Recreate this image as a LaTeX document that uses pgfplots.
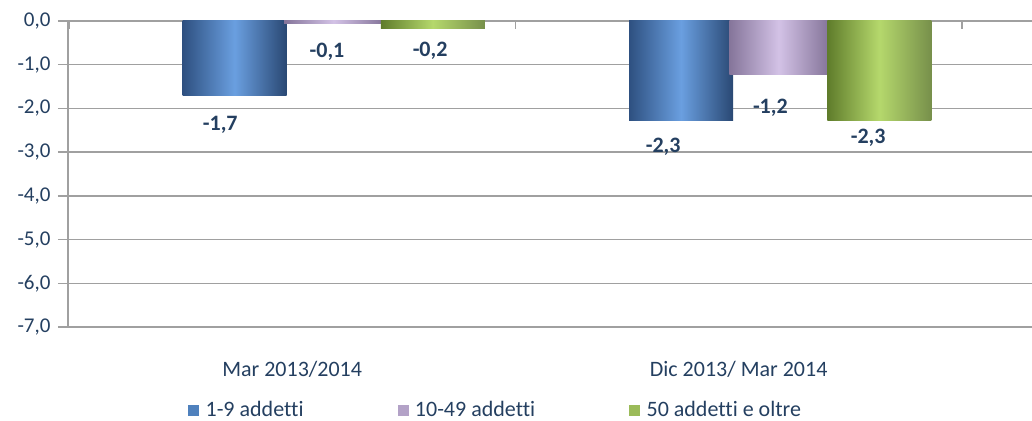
\documentclass[border=0pt]{standalone}
\usepackage{pgfplots}
\pgfplotsset{compat=1.18}
\usepackage{fontspec}
\setmainfont[Ligatures=NoCommon]{Carlito}
\definecolor{txt}{HTML}{243F60}
\definecolor{gridc}{HTML}{A0A0A0}
\definecolor{bluedark}{HTML}{2E5080}
\definecolor{bluelight}{HTML}{6A9FE0}
\definecolor{purpdark}{HTML}{85759A}
\definecolor{purplight}{HTML}{D3C2E6}
\definecolor{greendark}{HTML}{5F7C2B}
\definecolor{greenlight}{HTML}{B5D86C}
\definecolor{legblue}{HTML}{4F81BD}
\definecolor{legpurp}{HTML}{B3A2C7}
\definecolor{leggreen}{HTML}{9BBB59}

\pgfplotstableread{
x y lab
-0.161 -2.38 {-1,7}
0.078 -0.71 {-0,1}
0.309 -0.68 {-0,2}
0.831 -2.88 {-2,3}
1.071 -1.99 {-1,2}
1.290 -2.68 {-2,3}
}\labtable

\pgfplotsset{
  bluebar/.style={ybar, bar width=0.233, bar shift=0pt, draw=none, forget plot,
    left color=bluedark, right color=bluedark!90!black, middle color=bluelight},
  purpbar/.style={ybar, bar width=0.222, bar shift=0pt, draw=none, forget plot,
    left color=purpdark, right color=purpdark, middle color=purplight},
  greenbar/.style={ybar, bar width=0.233, bar shift=0pt, draw=none, forget plot,
    left color=greendark, right color=greendark!85!white, middle color=greenlight},
}

\begin{document}
\begin{tikzpicture}
\useasboundingbox (-68bp,-94bp) rectangle (964bp,327bp);
\begin{axis}[
  scale only axis, width=964bp, height=306bp,
  xmin=-0.502, xmax=1.657, ymin=-7, ymax=0,
  axis x line*=bottom, axis y line*=left,
  x axis line style={draw=none},
  y axis line style={draw=gridc, line width=1.3bp, -},
  xtick={0,1}, xticklabels={Mar 2013/2014, Dic 2013/ Mar 2014},
  x tick style={draw=none},
  xticklabel style={font=\fontsize{22bp}{26bp}\selectfont, text=txt, yshift=-21bp},
  ytick={-7,-6,-5,-4,-3,-2,-1,0},
  yticklabels={{-7,0},{-6,0},{-5,0},{-4,0},{-3,0},{-2,0},{-1,0},{0,0}},
  yticklabel style={font=\fontsize{21bp}{25bp}\selectfont, text=txt, xshift=-4bp},
  ymajorgrids, grid style={draw=gridc, line width=1.3bp},
  y tick style={draw=gridc, line width=1.3bp},
  tick align=outside, major tick length=10bp,
  legend columns=3,
  legend style={at={(axis description cs:0.1214,-0.2710)}, anchor=west, draw=none, fill=none,
    font=\fontsize{22bp}{26bp}\selectfont, text=txt,
    /tikz/every odd column/.append style={column sep=5bp},
    /tikz/every even column/.append style={column sep=92bp}},
]
\addplot[bluebar] coordinates {(-0.129,-1.7)};
\addplot[bluebar] coordinates {(0.871,-2.27)};
\addplot[purpbar] coordinates {(0.093,-0.05)};
\addplot[purpbar] coordinates {(1.090,-1.23)};
\addplot[greenbar] coordinates {(0.315,-0.18)};
\addplot[greenbar] coordinates {(1.315,-2.27)};
\addplot[draw=none, forget plot, nodes near coords, point meta=explicit symbolic,
  nodes near coords style={anchor=center, font=\fontsize{22bp}{26bp}\selectfont\bfseries, text=txt}]
  table[x=x, y=y, meta=lab] {\labtable};
\addlegendimage{legend image code/.code={\fill[legblue] (0bp,-5bp) rectangle (10bp,5bp);}}
\addlegendentry{1-9 addetti}
\addlegendimage{legend image code/.code={\fill[legpurp] (0bp,-5bp) rectangle (10bp,5bp);}}
\addlegendentry{10-49 addetti}
\addlegendimage{legend image code/.code={\fill[leggreen] (0bp,-5bp) rectangle (10bp,5bp);}}
\addlegendentry{50 addetti e oltre}
\end{axis}
\begin{axis}[
  scale only axis, width=964bp, height=306bp,
  xmin=-0.502, xmax=1.657, ymin=-7, ymax=0,
  axis x line*=top, hide y axis,
  x axis line style={draw=none},
  xtick={-0.5,0.5,1.5}, xticklabels={},
  tick align=inside, major tick length=8bp,
  x tick style={draw=gridc, line width=1.3bp},
]
\end{axis}
\end{tikzpicture}
\end{document}
